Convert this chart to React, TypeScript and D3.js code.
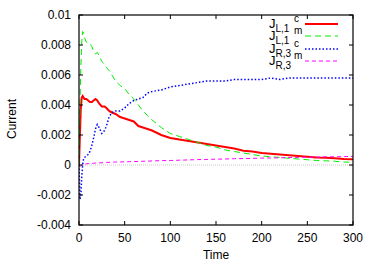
import * as d3 from "d3"

const times = [0, 1, 2, 3, 4, 5, 6, 8, 10, 12, 14, 16, 18, 20, 22, 25, 28, 30, 33, 36, 40, 45, 50, 55, 60, 65, 70, 75, 80, 90, 100, 110, 120, 130, 140, 150, 160, 170, 180, 190, 200, 210, 220, 230, 240, 250, 260, 270, 280, 290, 300]

const jL1c = [0, 0.002, 0.0038, 0.0045, 0.0046, 0.0045, 0.0044, 0.0044, 0.0043, 0.0042, 0.0042, 0.0043, 0.0044, 0.0043, 0.0041, 0.0039, 0.0039, 0.0038, 0.0036, 0.0035, 0.0034, 0.0032, 0.0031, 0.003, 0.0029, 0.0026, 0.0025, 0.0024, 0.0023, 0.002, 0.0018, 0.0017, 0.0016, 0.0015, 0.0014, 0.0013, 0.0012, 0.0011, 0.00095, 0.0009, 0.0008, 0.00075, 0.0007, 0.00065, 0.0006, 0.00055, 0.0005, 0.00048, 0.00045, 0.0004, 0.00038]
const jL1m = [0, 0.004, 0.0065, 0.0082, 0.0089, 0.0088, 0.0085, 0.0082, 0.0081, 0.0081, 0.0079, 0.0076, 0.0074, 0.0075, 0.0073, 0.0069, 0.0067, 0.0065, 0.0063, 0.006, 0.0056, 0.0053, 0.0051, 0.0047, 0.0044, 0.004, 0.0036, 0.0033, 0.003, 0.0025, 0.0021, 0.0019, 0.0017, 0.0015, 0.0013, 0.0012, 0.001, 0.0009, 0.0008, 0.0007, 0.0006, 0.00055, 0.0005, 0.00045, 0.0004, 0.00035, 0.0003, 0.00028, 0.00025, 0.0002, 0.00018]
const jR3c = [0, -0.0023, -0.002, -0.0008, 0, 0.0004, 0.0005, 0.0006, 0.0007, 0.0009, 0.0013, 0.0018, 0.0024, 0.0027, 0.0025, 0.0021, 0.0023, 0.0026, 0.0032, 0.0035, 0.0036, 0.0036, 0.0038, 0.0041, 0.0043, 0.0044, 0.0045, 0.0048, 0.0049, 0.005, 0.0052, 0.0053, 0.0054, 0.0055, 0.0056, 0.0056, 0.0056, 0.0057, 0.0057, 0.0057, 0.0057, 0.0058, 0.0057, 0.0058, 0.0058, 0.0058, 0.0058, 0.0058, 0.0058, 0.0058, 0.0058]
const jR3m = [-0.0001, -0.0001, -0.00005, 0, 0, 0.00003, 0.00005, 0.00008, 0.0001, 0.0001, 0.0001, 0.00012, 0.00013, 0.00013, 0.00014, 0.00015, 0.00016, 0.00017, 0.00018, 0.00018, 0.0002, 0.0002, 0.00021, 0.00022, 0.00023, 0.00024, 0.00025, 0.00026, 0.00027, 0.00029, 0.0003, 0.00032, 0.00034, 0.00036, 0.00037, 0.00039, 0.0004, 0.00042, 0.00043, 0.00044, 0.00046, 0.00047, 0.00048, 0.0005, 0.00051, 0.00052, 0.00053, 0.00054, 0.00055, 0.00056, 0.00057]

const xTicks = [0, 50, 100, 150, 200, 250, 300]
const yTicks = [-0.004, -0.002, 0, 0.002, 0.004, 0.006, 0.008, 0.01]
const yTickLabels = ["-0.004", "-0.002", "0", "0.002", "0.004", "0.006", "0.008", "0.01"]

const seriesNames = ["L,1", "L,1", "R,3", "R,3"]
const seriesSups = ["c", "m", "c", "m"]

const font = "'Liberation Sans', Arial, sans-serif"

export default function App() {
  const width = 374
  const height = 262
  const left = 79, right = 353, top = 15, bottom = 225

  const x = d3.scaleLinear().domain([0, 300]).range([left, right])
  const y = d3.scaleLinear().domain([-0.004, 0.01]).range([bottom, top])

  const line = (vals: number[]) =>
    d3.line<number>()
      .x((_, i) => x(times[i]))
      .y(d => y(d))(vals) || ""

  const series = [
    { vals: jL1c, color: "#ff0000", width: 2, dash: "none" },
    { vals: jL1m, color: "#00ee00", width: 1, dash: "6,4" },
    { vals: jR3c, color: "#0000ff", width: 1.5, dash: "1.5,2" },
    { vals: jR3m, color: "#ff00ff", width: 1, dash: "4,3" },
  ]

  const legendY = [24, 36, 49, 61]

  return (
    <svg width={width} height={height} style={{ position: "absolute", left: 0, top: 0, background: "#fff" }}>
      <rect width={width} height={height} fill="#fff" />
      <line x1={left} x2={right} y1={y(0)} y2={y(0)} stroke="#bbb" strokeWidth={0.8} strokeDasharray="1,1" />
      <defs>
        <clipPath id="plot">
          <rect x={left} y={top} width={right - left} height={bottom - top} />
        </clipPath>
      </defs>
      <g clipPath="url(#plot)">
        {series.map((s, i) => (
          <path key={i} d={line(s.vals)} fill="none" stroke={s.color}
            strokeWidth={s.width} strokeDasharray={s.dash} />
        ))}
      </g>
      {xTicks.map(t => (
        <g key={t}>
          <line x1={x(t)} x2={x(t)} y1={bottom} y2={bottom - 4} stroke="#000" />
          <line x1={x(t)} x2={x(t)} y1={top} y2={top + 4} stroke="#000" />
          <text x={x(t)} y={242} textAnchor="middle" fontFamily={font} fontSize={12}>{t}</text>
        </g>
      ))}
      {yTicks.map((t, i) => (
        <g key={t}>
          <line x1={left} x2={left + 4} y1={y(t)} y2={y(t)} stroke="#000" />
          <line x1={right} x2={right - 4} y1={y(t)} y2={y(t)} stroke="#000" />
          <text x={71} y={y(t) + 4} textAnchor="end" fontFamily={font} fontSize={12}>{yTickLabels[i]}</text>
        </g>
      ))}
      <rect x={left} y={top} width={right - left} height={bottom - top} fill="none" stroke="#000" strokeWidth={1.2} />
      {series.map((s, i) => (
        <g key={i}>
          <text x={269} y={legendY[i] + 4} fontFamily={font} fontSize={13}>
            J<tspan dy={4} fontSize={10}>{seriesNames[i]}</tspan>
          </text>
          <text x={294} y={legendY[i] - 2} fontFamily={font} fontSize={10}>{seriesSups[i]}</text>
          <line x1={305} x2={338} y1={legendY[i]} y2={legendY[i]} stroke={s.color}
            strokeWidth={s.width} strokeDasharray={s.dash} />
        </g>
      ))}
      <text x={216} y={259} textAnchor="middle" fontFamily={font} fontSize={12}>Time</text>
      <text transform={`translate(16,119) rotate(-90)`} textAnchor="middle" fontFamily={font} fontSize={12}>Current</text>
    </svg>
  )
}
